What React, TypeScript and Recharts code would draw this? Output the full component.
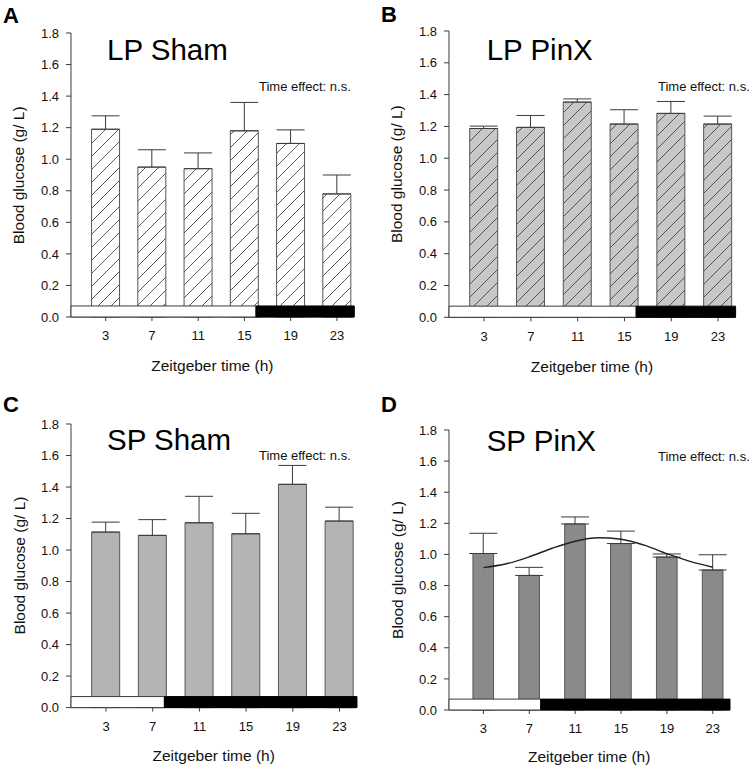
import { ComposedChart, Bar, Line, XAxis, YAxis, ErrorBar, ReferenceArea } from "recharts"

// Zeitgeber time of each sampling point (h)
const zt = [3, 7, 11, 15, 19, 23]
const yTicks = [0, 0.2, 0.4, 0.6, 0.8, 1.0, 1.2, 1.4, 1.6, 1.8]

// blood glucose, mean and SEM (g/L)
const lpShamMean = [1.19, 0.95, 0.94, 1.18, 1.1, 0.78]
const lpShamErr = [0.085, 0.11, 0.1, 0.18, 0.086, 0.12]
const lpPinxMean = [1.187, 1.194, 1.353, 1.215, 1.282, 1.215]
const lpPinxErr = [0.015, 0.075, 0.02, 0.09, 0.075, 0.05]
const spShamMean = [1.114, 1.093, 1.173, 1.103, 1.417, 1.184]
const spShamErr = [0.063, 0.1, 0.168, 0.13, 0.12, 0.088]
const spPinxMean = [1.006, 0.865, 1.196, 1.07, 0.983, 0.9]
const spPinxErr = [0.13, 0.052, 0.045, 0.08, 0.02, 0.098]

// fitted rhythm drawn over SP PinX
const fitZt = [3, 5, 7, 9, 11, 13, 15, 17, 19, 21, 23]
const fitGlucose = [0.915, 0.94, 0.985, 1.04, 1.085, 1.107, 1.098, 1.06, 1.005, 0.955, 0.918]

// light phase end (h) for long and short photoperiod
const lpLightEnd = 16
const spLightEnd = 8

const FONT = 'Arial, "Liberation Sans", sans-serif'
const X_MAX = 24.5
const INK = "#3a3a3a"

interface PanelCfg {
  id: string
  title: string
  mean: number[]
  err: number[]
  fill: string
  hatch: boolean
  lightEnd: number
  fit?: boolean
  left: number
  top: number
  w: number
  h: number
  letterX: number
  letterY: number
  titleX: number
  titleY: number
  noteX: number
  noteY: number
  yLabelX: number
  xLabelY: number
}

const panels: PanelCfg[] = [
  {
    id: "A", title: "LP Sham", mean: lpShamMean, err: lpShamErr, fill: "#ffffff", hatch: true,
    lightEnd: lpLightEnd, left: 70.7, top: 33.3, w: 283.3, h: 284,
    letterX: 3, letterY: 23, titleX: 107, titleY: 60, noteX: 259, noteY: 91, yLabelX: 19, xLabelY: 370.7,
  },
  {
    id: "B", title: "LP PinX", mean: lpPinxMean, err: lpPinxErr, fill: "#c8c8c8", hatch: true,
    lightEnd: lpLightEnd, left: 448.7, top: 31, w: 286.6, h: 286.3,
    letterX: 381, letterY: 22, titleX: 486.7, titleY: 60, noteX: 658, noteY: 91, yLabelX: 397, xLabelY: 371.7,
  },
  {
    id: "C", title: "SP Sham", mean: spShamMean, err: spShamErr, fill: "#b4b4b4", hatch: false,
    lightEnd: spLightEnd, left: 70.7, top: 423.7, w: 286, h: 283.6,
    letterX: 3, letterY: 411.7, titleX: 107, titleY: 450, noteX: 259, noteY: 460, yLabelX: 19, xLabelY: 761,
  },
  {
    id: "D", title: "SP PinX", mean: spPinxMean, err: spPinxErr, fill: "#8a8a8a", hatch: false,
    lightEnd: spLightEnd, fit: true, left: 448.7, top: 430, w: 281, h: 280,
    letterX: 381, letterY: 412.3, titleX: 486.7, titleY: 450.7, noteX: 658, noteY: 461, yLabelX: 397, xLabelY: 761.7,
  },
]

const ML = 70
const MT = 20
const MR = 10
const MB = 60

function Panel({ cfg }: { cfg: PanelCfg }) {
  const data = zt.map((t, i) => ({ t, mean: cfg.mean[i], err: [0, cfg.err[i]] }))
  const fitData = fitZt.map((t, i) => ({ t, g: fitGlucose[i] }))
  const patId = `hatch-${cfg.id}`
  const tick = { fontSize: 13, fill: "#111", fontFamily: FONT }
  const width = cfg.w + ML + MR
  const height = cfg.h + MT + MB
  const margin = { top: MT, right: MR, bottom: 0, left: 0 }

  return (
    <>
      <div style={{ position: "absolute", left: cfg.left - ML, top: cfg.top - MT }}>
        <ComposedChart width={width} height={height} data={data} margin={margin}>
          <defs>
            <pattern id={patId} patternUnits="userSpaceOnUse" width={13} height={13}>
              <rect width={13} height={13} fill={cfg.fill} />
              <path d="M0,13 L13,0 M-3,3 L3,-3 M10,16 L16,10" stroke="#444" strokeWidth={0.9} />
            </pattern>
          </defs>
          <XAxis
            dataKey="t"
            type="number"
            domain={[0, X_MAX]}
            ticks={zt}
            height={MB}
            tickSize={4}
            tickMargin={10}
            tick={tick}
            stroke={INK}
            allowDataOverflow
          />
          <YAxis
            type="number"
            domain={[0, 1.8]}
            ticks={yTicks}
            width={ML}
            tickSize={5}
            tickMargin={7}
            tick={tick}
            tickFormatter={(v: number) => v.toFixed(1)}
            stroke={INK}
          />
          <Bar
            dataKey="mean"
            barSize={28}
            fill={cfg.hatch ? `url(#${patId})` : cfg.fill}
            stroke="#555"
            strokeWidth={1}
            isAnimationActive={false}
          >
            <ErrorBar dataKey="err" width={14} stroke={INK} strokeWidth={1} direction="y" />
          </Bar>
          {cfg.fit && (
            <Line
              data={fitData}
              dataKey="g"
              type="monotone"
              dot={false}
              stroke="#222"
              strokeWidth={1.4}
              isAnimationActive={false}
            />
          )}
        </ComposedChart>
      </div>
      {/* light / dark phase bar, drawn over the bar bases */}
      <div style={{ position: "absolute", left: cfg.left - ML, top: cfg.top - MT, pointerEvents: "none" }}>
        <ComposedChart width={width} height={height} data={data} margin={margin}>
          <XAxis
            dataKey="t"
            type="number"
            domain={[0, X_MAX]}
            height={MB}
            tick={false}
            axisLine={false}
            tickLine={false}
            allowDataOverflow
          />
          <YAxis
            type="number"
            domain={[0, 1.8]}
            width={ML}
            tick={false}
            axisLine={false}
            tickLine={false}
          />
          <Bar dataKey="mean" barSize={28} fill="none" stroke="none" isAnimationActive={false} />
          <ReferenceArea
            x1={0}
            x2={cfg.lightEnd}
            y1={0}
            y2={0.07}
            fill="#ffffff"
            fillOpacity={1}
            stroke={INK}
            strokeWidth={1}
            ifOverflow="visible"
          />
          <ReferenceArea
            x1={cfg.lightEnd}
            x2={X_MAX}
            y1={0}
            y2={0.07}
            fill="#000000"
            fillOpacity={1}
            stroke="#000000"
            ifOverflow="visible"
          />
        </ComposedChart>
      </div>
    </>
  )
}

function Labels({ cfg }: { cfg: PanelCfg }) {
  const cx = cfg.left + cfg.w / 2
  const cy = cfg.top + cfg.h / 2
  return (
    <g fontFamily={FONT} fill="#111">
      <text x={cfg.letterX} y={cfg.letterY} fontSize={22} fontWeight="bold" fill="#000">
        {cfg.id}
      </text>
      <text x={cfg.titleX} y={cfg.titleY} fontSize={29.5} fill="#000">
        {cfg.title}
      </text>
      <text x={cfg.noteX} y={cfg.noteY} fontSize={13}>
        Time effect: n.s.
      </text>
      <text
        x={cfg.yLabelX}
        y={cy}
        fontSize={15.5}
        textAnchor="middle"
        dominantBaseline="central"
        transform={`rotate(-90 ${cfg.yLabelX} ${cy})`}
      >
        Blood glucose (g/ L)
      </text>
      <text x={cx} y={cfg.xLabelY} fontSize={15.5} textAnchor="middle">
        Zeitgeber time (h)
      </text>
    </g>
  )
}

export default function App() {
  return (
    <div style={{ position: "absolute", left: 0, top: 0, width: 756, height: 770, background: "#fff" }}>
      {panels.map((p) => (
        <Panel key={p.id} cfg={p} />
      ))}
      <svg
        width={756}
        height={770}
        style={{ position: "absolute", left: 0, top: 0, pointerEvents: "none" }}
      >
        {panels.map((p) => (
          <Labels key={p.id} cfg={p} />
        ))}
      </svg>
    </div>
  )
}
